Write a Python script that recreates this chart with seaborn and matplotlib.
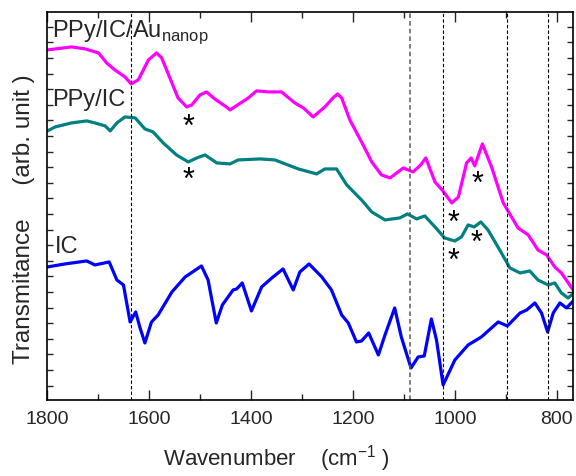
import numpy as np
import pandas as pd
import matplotlib
matplotlib.use("Agg")
import matplotlib.pyplot as plt
import seaborn as sns

# espectros (numero de onda, transmitancia en unidades arbitrarias)
au_wn = [1799, 1752, 1725, 1699, 1683, 1667, 1647, 1635, 1621, 1601, 1585, 1575, 1555, 1543,
         1526, 1516, 1500, 1487, 1471, 1451, 1441, 1405, 1389, 1366, 1340, 1314, 1297, 1278,
         1255, 1239, 1230, 1222, 1206, 1183, 1163, 1144, 1127, 1101, 1082, 1067, 1057, 1039,
         1025, 1006, 993, 977, 968, 961, 946, 928, 905, 876, 856, 837, 820, 804, 791, 768]
au_t = [350, 353, 351, 347, 337, 330, 323, 316, 320, 340, 347, 342, 317, 302,
        293, 295, 305, 308, 301, 294, 290, 302, 309, 308, 308, 297, 292, 283,
        293, 302, 306, 302, 280, 258, 238, 225, 222, 232, 228, 235, 242, 218,
        210, 197, 203, 237, 242, 234, 256, 233, 197, 172, 165, 150, 145, 133, 127, 110]

ppy_wn = [1799, 1784, 1752, 1722, 1706, 1686, 1676, 1663, 1647, 1627, 1608, 1592, 1572, 1546,
          1523, 1506, 1490, 1467, 1441, 1425, 1382, 1353, 1307, 1271, 1255, 1232, 1212, 1183,
          1163, 1137, 1108, 1093, 1075, 1059, 1039, 1020, 1000, 987, 974, 962, 949, 935,
          912, 892, 872, 853, 837, 817, 804, 791, 778, 766]
ppy_t = [269, 273, 277, 279, 277, 274, 269, 277, 283, 282, 271, 268, 257, 245,
         238, 242, 245, 237, 236, 240, 241, 240, 231, 226, 231, 231, 215, 200,
         188, 180, 182, 186, 181, 184, 173, 162, 159, 163, 175, 173, 178, 170,
         150, 132, 127, 129, 120, 115, 117, 107, 102, 107]

ic_wn = [1799, 1765, 1722, 1706, 1678, 1663, 1650, 1637, 1626, 1618, 1608, 1595, 1582, 1555,
         1529, 1497, 1484, 1468, 1456, 1435, 1428, 1417, 1399, 1379, 1359, 1337, 1317, 1304,
         1286, 1261, 1242, 1222, 1209, 1193, 1183, 1169, 1150, 1137, 1118, 1105, 1086, 1072,
         1060, 1046, 1036, 1023, 1000, 974, 948, 915, 897, 872, 859, 843, 830, 818, 807,
         794, 781, 766]
ic_t = [133, 136, 139, 135, 138, 120, 115, 78, 88, 73, 57, 78, 85, 108,
        123, 134, 120, 77, 95, 110, 111, 117, 89, 113, 122, 131, 110, 128,
        136, 123, 110, 85, 77, 58, 59, 67, 45, 65, 92, 63, 32, 43,
        44, 81, 60, 15, 40, 55, 63, 78, 74, 87, 90, 97, 87, 68, 87,
        97, 92, 100]

bandas = [1636, 1087, 1023, 898, 818]

# asteriscos (numero de onda, altura)
star_wn = [1523, 1523, 956, 1003, 957, 1003]
star_t = [280, 227, 223, 184, 164, 146]

sns.set_style("ticks")
plt.rcParams["font.family"] = ["Liberation Sans", "DejaVu Sans"]
plt.rcParams["mathtext.fontset"] = "custom"
plt.rcParams["mathtext.rm"] = "Liberation Sans"

df = pd.concat([
    pd.DataFrame({"wn": au_wn, "t": au_t, "muestra": "PPy/IC/Au"}),
    pd.DataFrame({"wn": ppy_wn, "t": ppy_t, "muestra": "PPy/IC"}),
    pd.DataFrame({"wn": ic_wn, "t": ic_t, "muestra": "IC"}),
])

fig = plt.figure(figsize=(5.76, 4.76), dpi=100)
ax = fig.add_axes([0.0816, 0.1597, 0.9134, 0.8153])

sns.lineplot(data=df, x="wn", y="t", hue="muestra",
             palette={"PPy/IC/Au": "#ff00ff", "PPy/IC": "#008080", "IC": "#0000ff"},
             linewidth=2.3, legend=False, ax=ax, estimator=None, sort=False,
             solid_joinstyle="round", solid_capstyle="round")

for b in bandas:
    if b == 1087:
        ax.axvline(b, color="0.35", linestyle=(0, (3, 2)), linewidth=1.1)
    else:
        ax.axvline(b, color="black", linestyle=(0, (3, 2)), linewidth=0.8)

for x, y in zip(star_wn, star_t):
    ax.text(x, y - 8, "*", fontsize=22, ha="center", va="center", color="black")

ax.text(1790, 363, "PPy/IC/Au$_{\\mathregular{nanop}}$", fontsize=17, ha="left", va="baseline")
ax.text(1790, 294, "PPy/IC", fontsize=17, ha="left", va="baseline")
ax.text(1785, 147, "IC", fontsize=17, ha="left", va="baseline")

ax.set_xlim(1800, 768)
ax.set_ylim(0, 388)
ax.set_xticks([1800, 1600, 1400, 1200, 1000, 800])
ax.set_xticks(np.arange(800, 1800, 100), minor=True)
ax.set_yticks(np.arange(14.3, 388, 15.6))
ax.set_yticklabels([])
ax.tick_params(axis="x", which="major", direction="in", length=7, width=1,
               top=True, labelsize=14, pad=8)
ax.tick_params(axis="x", which="minor", direction="in", length=4, width=1, top=True)
ax.tick_params(axis="y", which="major", direction="in", length=4, width=1, right=True)
for s in ax.spines.values():
    s.set_linewidth(1.2)
    s.set_color("black")

ax.set_xlabel("Wavenumber    (cm$^{\\mathregular{-1}}$ )", fontsize=16)
ax.xaxis.set_label_coords(0.437, -0.112)
ax.set_ylabel("Transmitance     (arb. unit )", fontsize=17.5)
ax.yaxis.set_label_coords(-0.022, 0.466)

fig.savefig("out.png", dpi=100)
